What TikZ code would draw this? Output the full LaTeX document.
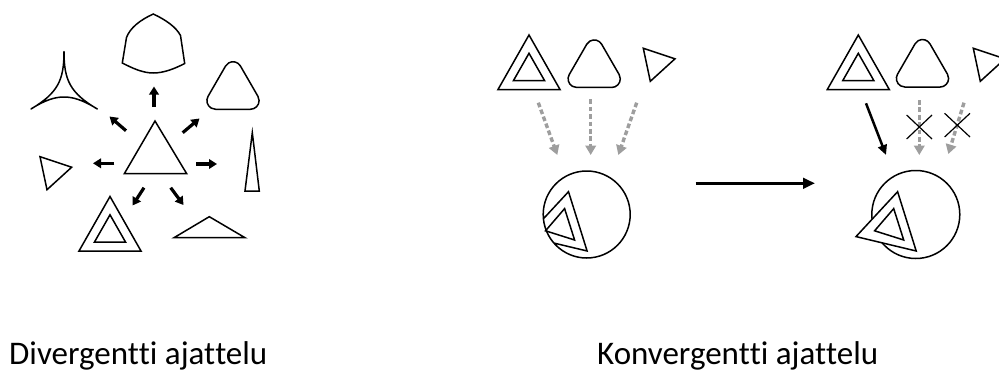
\documentclass[tikz,border=0pt]{standalone}
\usepackage{fontspec}
\setmainfont{Carlito}[RawFeature={-liga,-clig,-calt,-dlig}]
\usetikzlibrary{arrows.meta}
\definecolor{arrgray}{RGB}{158,158,158}
\tikzset{
  outl/.style={draw=black,line width=1.5pt,line join=miter},
  blkarrow/.style={draw=black,line width=3.2pt,-{Triangle[width=9.5pt,length=8pt]}},
  thinarrow/.style={draw=black,line width=2.5pt,-{Triangle[width=9pt,length=10pt]}},
  bigarrow/.style={draw=black,line width=3pt,-{Triangle[width=10.5pt,length=12pt]}},
  gryarrow/.style={draw=arrgray,line width=3.4pt,dash pattern=on 4.7pt off 2.7pt,-{Triangle[width=10.5pt,length=9.5pt]}},
  crossline/.style={draw=black,line width=1.2pt},
  label/.style={anchor=base west,inner sep=0pt,font=\fontsize{33}{38}\selectfont},
  dtri/.pic={
    \draw[outl] (0,0)--(-31,54.5)--(31,54.5)--cycle;
    \draw[outl] (0,18.3)--(-15.5,45.5)--(15.5,45.5)--cycle;},
  rtri/.pic={
    \draw[outl] (-17.5,23.75)--(17.5,23.75) arc[start angle=90,end angle=-30,radius=8.6]
      -- (7.45,-19.46) arc[start angle=-30,end angle=-150,radius=8.6]
      -- (-24.95,10.85) arc[start angle=-150,end angle=-270,radius=8.6] -- cycle;},
  stri/.pic={
    \draw[outl] (0,0)--(31.7,10.5)--(7,33)--cycle;}
}
\begin{document}
\begin{tikzpicture}[x=1pt,y=-1pt]
\useasboundingbox (0,0) rectangle (999,372);
\clip (0,0) rectangle (999,372);

% ---------- Left panel: divergent ----------
\draw[outl] (155,121)--(124.3,173.7)--(186.7,173.7)--cycle;
% top reuleaux-like shape
\draw[outl] (153.3,14) .. controls (140,20) and (130,28) .. (126.5,37.5)
  -- (122.3,63) .. controls (133,68.5) and (143,73) .. (153.3,73)
  .. controls (164,73) and (175,68.5) .. (184.7,63.5)
  -- (180.5,35.5) .. controls (176,27) and (166,20) .. (153.3,14) -- cycle;
% three-pointed star
\draw[outl,line join=round] (64,51.7) .. controls (64,80) and (58,93) .. (31,109)
  .. controls (45,100) and (55,97) .. (64,97)
  .. controls (73,97) and (83,100) .. (97.3,109)
  .. controls (70,93) and (64,80) .. (64,51.7) -- cycle;
% rounded triangle
\pic at (233,85.5) {rtri};
% small triangle
\pic at (40,156.7) {stri};
% thin tall triangle
\draw[outl] (252.3,132.7)--(245,191)--(259.3,191)--cycle;
% double triangle
\pic at (110,196.5) {dtri};
% flat triangle
\draw[outl] (209.3,216.7)--(174,237.7)--(245,237.7)--cycle;
% arrows
\coordinate (u1) at (154,107); \coordinate (u2) at (154,86.5);
\coordinate (ul1) at (126,130.7); \coordinate (ul2) at (109.5,116.5);
\coordinate (ur1) at (182.7,132.7); \coordinate (ur2) at (199.5,118.5);
\coordinate (l1) at (114.3,163.3); \coordinate (l2) at (93,163.3);
\coordinate (r1) at (196,164); \coordinate (r2) at (217,164);
\coordinate (dl1) at (144,187.7); \coordinate (dl2) at (132.5,205.5);
\coordinate (dr1) at (170.7,187.7); \coordinate (dr2) at (183.5,205);
\draw[blkarrow] (u1)--(u2);
\draw[blkarrow] (ul1)--(ul2);
\draw[blkarrow] (ur1)--(ur2);
\draw[blkarrow] (l1)--(l2);
\draw[blkarrow] (r1)--(r2);
\draw[blkarrow] (dl1)--(dl2);
\draw[blkarrow] (dr1)--(dr2);

\node[label] (divtext) at (9,364) {Divergent\kern0pt ti ajat\kern0pt telu};

% ---------- Middle panel ----------
\pic at (529,35) {dtri};
\pic at (594.2,63.7) {rtri};
\pic at (643.3,48.3) {stri};
\coordinate (m1a) at (538.3,102.7); \coordinate (m1b) at (557.3,155);
\coordinate (m2a) at (590.7,99.3); \coordinate (m2b) at (590.7,155);
\coordinate (m3a) at (636.7,102.7); \coordinate (m3b) at (618.3,155);
\draw[gryarrow] (m1a)--(m1b);
\draw[gryarrow] (m2a)--(m2b);
\draw[gryarrow] (m3a)--(m3b);
\begin{scope}[shift={(586.7,214.5)}]
  \draw[outl] (174.35:43.5) arc[start angle=174.35,end angle=-221.02,radius=43.5]
    -- (0.4,36.5) -- (-18.2,-22.8) -- cycle;
  \draw[outl] (-22.1,-5.9) -- (-12.1,25.5) -- (-41.2,16.3) -- cycle;
\end{scope}

% big arrow
\coordinate (ba1) at (695.7,183.3); \coordinate (ba2) at (815,183.3);
\draw[bigarrow] (ba1)--(ba2);

% ---------- Right panel ----------
\pic at (858.3,35) {dtri};
\pic at (922.5,63.3) {rtri};
\pic at (973.3,48.3) {stri};
\coordinate (k1a) at (866,103.3); \coordinate (k1b) at (886,155);
\coordinate (k2a) at (919.3,100); \coordinate (k2b) at (919.3,155);
\coordinate (k3a) at (964,102.7); \coordinate (k3b) at (948.3,154);
\draw[thinarrow] (k1a)--(k1b);
\draw[gryarrow] (k2a)--(k2b);
\draw[gryarrow] (k3a)--(k3b);
\draw[crossline] (906.6,115)--(932,139) (906.6,139)--(932,115);
\draw[crossline] (944.6,113.3)--(970,137) (944.6,137)--(970,113.3);
\begin{scope}[shift={(915.8,214.5)}]
  \draw[outl] (0,0) circle[radius=44];
  \draw[outl,fill=white] (-18.2,-22.8) -- (0.4,36.5) -- (-59.8,22.1) -- cycle;
  \draw[outl] (-22.1,-5.9) -- (-12.1,25.5) -- (-41.2,16.3) -- cycle;
\end{scope}

\node[label] (context) at (597,364) {Konvergent\kern0pt ti ajat\kern0pt telu};
\end{tikzpicture}
\end{document}
